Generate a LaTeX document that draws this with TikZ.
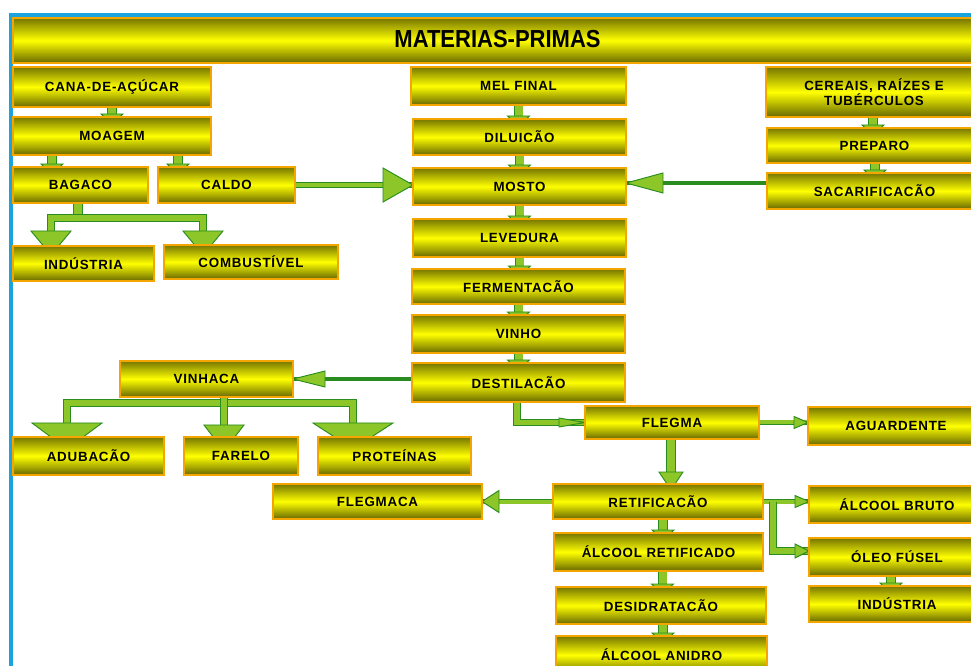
\documentclass[tikz,border=0pt]{standalone}
\usepackage{graphicx}
\usepackage{fontspec}
\setmainfont{Liberation Sans}
\newfontfamily\boxfont[LetterSpace=6]{Liberation Sans}
\usetikzlibrary{calc,fit,backgrounds}
\definecolor{frameblue}{RGB}{26,163,221}
\definecolor{boxor}{RGB}{245,165,0}
\definecolor{boxdark}{RGB}{118,118,0}
\definecolor{boxdarkb}{RGB}{104,104,0}
\definecolor{boxmid}{RGB}{255,255,0}
\definecolor{glight}{RGB}{140,198,40}
\definecolor{gdark}{RGB}{40,140,30}
\tikzset{
  box/.style={draw=boxor, line width=0.9pt, inner sep=0pt, outer sep=0pt,
    top color=boxdark, bottom color=boxdarkb, middle color=boxmid},
  boxtext/.style={align=center, text=black, inner sep=0pt,
    font=\boxfont\bfseries\fontsize{10}{11.5}\selectfont},
  pipe/.style={draw=gdark, line width=0.7pt, double=glight, double distance=#1, line join=miter},
  pipe/.default=3pt,
  tiphead/.style={fill=glight, draw=gdark, line width=0.7pt, line join=miter},
  solidline/.style={draw=gdark, line width=3pt}
}
\newcommand\bx[6]{\node[box, fit={(#2,#3) (#4,#5)}] (#1) {};
  \node[boxtext] (#1-t) at (#1.center) {#6};}
\newcommand\ahdown[3]{\path #1 coordinate (hb);
  \filldraw[tiphead] ($(hb)+(-#2,0)$) -- ($(hb)+(#2,0)$) -- ($(hb)+(0,#3)$) -- cycle;}
\newcommand\ahleft[3]{\path #1 coordinate (hb);
  \filldraw[tiphead] ($(hb)+(0,-#2)$) -- ($(hb)+(0,#2)$) -- ($(hb)+(-#3,0)$) -- cycle;}
\newcommand\ahright[3]{\path #1 coordinate (hb);
  \filldraw[tiphead] ($(hb)+(0,-#2)$) -- ($(hb)+(0,#2)$) -- ($(hb)+(#3,0)$) -- cycle;}
\newcommand\sarrow[2]{\path #1 coordinate (sa);
  \draw[pipe=6pt] (sa) -- (sa |- #2.north);
  \ahdown{($(sa |- #2.north)+(0,-3)$)}{11}{10}}
\begin{document}
\begin{tikzpicture}[x=0.75pt,y=-0.75pt]
\useasboundingbox (0,0) rectangle (971,666);
% boxes
\node[box, fit={(13,18) (982,63)}] (title) {};
\node[font=\bfseries\fontsize{16.5}{18}\selectfont, inner sep=0pt] (title-t) at ($(title.center)+(0,-1)$) {\scalebox{1}[1.12]{MATERIAS-PRIMAS}};
\bx{cana}{13}{67}{211}{107}{CANA-DE-AÇÚCAR}
\bx{moagem}{13}{117}{211}{155}{MOAGEM}
\bx{bagaco}{13}{167}{148}{203}{BAGACO}
\bx{caldo}{158}{167}{295}{203}{CALDO}
\bx{ind1}{13}{246}{154}{281}{INDÚSTRIA}
\bx{comb}{164}{245}{338}{279}{COMBUSTÍVEL}
\bx{mel}{411}{67}{626}{105}{MEL FINAL}
\bx{dil}{413}{119}{626}{155}{DILUICÃO}
\bx{mosto}{413}{168}{626}{205}{MOSTO}
\bx{lev}{413}{219}{626}{257}{LEVEDURA}
\bx{ferm}{412}{269}{625}{304}{FERMENTACÃO}
\bx{vinho}{412}{315}{625}{353}{VINHO}
\bx{dest}{412}{363}{625}{402}{DESTILACÃO}
\bx{cer}{766}{67}{982}{117}{CEREAIS, RAÍZES E\\TUBÉRCULOS}
\bx{prep}{767}{128}{982}{163}{PREPARO}
\bx{sac}{767}{173}{982}{209}{SACARIFICACÃO}
\bx{vinhaca}{120}{361}{293}{397}{VINHACA}
\bx{adub}{13}{437}{164}{475}{ADUBACÃO}
\bx{farelo}{184}{437}{298}{475}{FARELO}
\bx{prot}{318}{437}{471}{475}{PROTEÍNAS}
\bx{flegma}{585}{406}{759}{439}{FLEGMA}
\bx{aguard}{808}{407}{984}{445}{AGUARDENTE}
\bx{flegmaca}{273}{484}{482}{519}{FLEGMACA}
\bx{retif}{553}{484}{763}{519}{RETIFICACÃO}
\bx{bruto}{809}{486}{985}{523}{ÁLCOOL BRUTO}
\bx{alcret}{554}{533}{763}{571}{ÁLCOOL RETIFICADO}
\bx{oleo}{809}{538}{985}{576}{ÓLEO FÚSEL}
\bx{ind2}{809}{586}{985}{622}{INDÚSTRIA}
\bx{desid}{556}{587}{766}{624}{DESIDRATACÃO}
\bx{anidro}{556}{636}{767}{674}{ÁLCOOL ANIDRO}
\begin{scope}[on background layer]
\fill[white] (0,0) rectangle (971,666);
\draw[frameblue, line width=3pt] (11,700) -- (11,15) -- (1000,15);
% left column
\sarrow{(cana.south)}{moagem}
\sarrow{($(moagem.south west)+(39,0)$)}{bagaco}
\sarrow{($(moagem.south west)+(165,0)$)}{caldo}
% bagaco branch
\coordinate (bs) at ($(bagaco.south west)+(65,0)$);
\coordinate (bj) at ($(bs)+(0,15)$);
\coordinate (bL) at ($(ind1.north west)+(38,0)$);
\coordinate (bR) at ($(comb.north west)+(39,0)$);
\draw[pipe=6.5pt] (bs) -- (bj);
\draw[pipe=4pt] (bL) -- (bL |- bj) -- (bR |- bj) -- (bR);
\ahdown{($(bL)+(0,-15)$)}{20}{24}
\ahdown{($(bR)+(0,-14)$)}{20}{24}
% caldo -> mosto
\coordinate (c1) at (caldo.east -| mosto.west);
\draw[pipe=2.8pt] (caldo.east) -- (c1);
\ahright{($(c1)+(-30,0)$)}{17}{30}
% sacarificacao -> mosto
\coordinate (s1) at ($(sac.west)+(0,-8)$);
\coordinate (s2) at (s1 -| mosto.east);
\draw[solidline] (s1) -- (s2);
\ahleft{($(s2)+(37,0)$)}{10}{37}
% middle column
\sarrow{(mel.south)}{dil}
\sarrow{(dil.south)}{mosto}
\sarrow{(mosto.south)}{lev}
\sarrow{(lev.south)}{ferm}
\sarrow{(ferm.south)}{vinho}
\sarrow{(vinho.south)}{dest}
% right column
\sarrow{($(cer.south west)+(107,0)$)}{prep}
\sarrow{($(prep.south west)+(108,0)$)}{sac}
% destilacao -> vinhaca
\coordinate (v1) at (vinhaca.east -| dest.west);
\draw[solidline] (v1) -- (vinhaca.east);
\ahleft{($(vinhaca.east)+(32,0)$)}{8}{32}
% vinhaca branch
\coordinate (vs) at ($(vinhaca.south west)+(104,0)$);
\coordinate (vj) at ($(vs)+(0,6)$);
\coordinate (vL) at ($(adub.north west)+(54,0)$);
\coordinate (vM) at (vs |- farelo.north);
\coordinate (vR) at ($(prot.north west)+(35,0)$);
\draw[pipe=4.5pt] (vL) -- (vL |- vj) -- (vR |- vj) -- (vR);
\draw[pipe=4pt] (vs) -- (vM);
\ahdown{($(vL)+(0,-14)$)}{35}{26}
\ahdown{($(vM)+(0,-12)$)}{20}{26}
\ahdown{($(vR)+(0,-14)$)}{40}{26}
% destilacao -> flegma
\coordinate (f0) at ($(dest.south west)+(105,0)$);
\draw[pipe=4pt] (f0) |- (flegma.west);
\ahright{($(flegma.west)+(-26,0)$)}{4.5}{26}
% flegma -> aguardente
\coordinate (g1) at (flegma.east -| aguard.west);
\draw[pipe=3pt] (flegma.east) -- (g1);
\ahright{($(g1)+(-14,0)$)}{6}{14}
% flegma -> retificacao
\coordinate (r0) at ($(flegma.south west)+(86,0)$);
\draw[pipe=6pt] (r0) -- (r0 |- retif.north);
\ahdown{($(r0 |- retif.north)+(0,-12)$)}{12}{18}
% retificacao -> flegmaca
\coordinate (q1) at (retif.west -| flegmaca.east);
\draw[pipe=3pt] (retif.west) -- (q1);
\ahleft{($(q1)+(17,0)$)}{11}{17}
% retificacao -> alcool bruto
\coordinate (k1) at (retif.east -| bruto.west);
\draw[pipe=3pt] (retif.east) -- (k1);
\ahright{($(k1)+(-14,0)$)}{6}{14}
% retificacao -> oleo fusel
\coordinate (o1) at ($(retif.east)+(10,0)$);
\coordinate (o2) at ($(oleo.west)+(0,-6)$);
\draw[pipe=4pt] (o1) |- (o2);
\ahright{($(o2)+(-14,0)$)}{7}{14}
% lower column
\sarrow{($(retif.south)+(5,0)$)}{alcret}
\sarrow{($(alcret.south)+(4,0)$)}{desid}
\sarrow{($(desid.south)+(2,0)$)}{anidro}
\sarrow{($(oleo.south west)+(82,0)$)}{ind2}
\end{scope}
\end{tikzpicture}
\end{document}
